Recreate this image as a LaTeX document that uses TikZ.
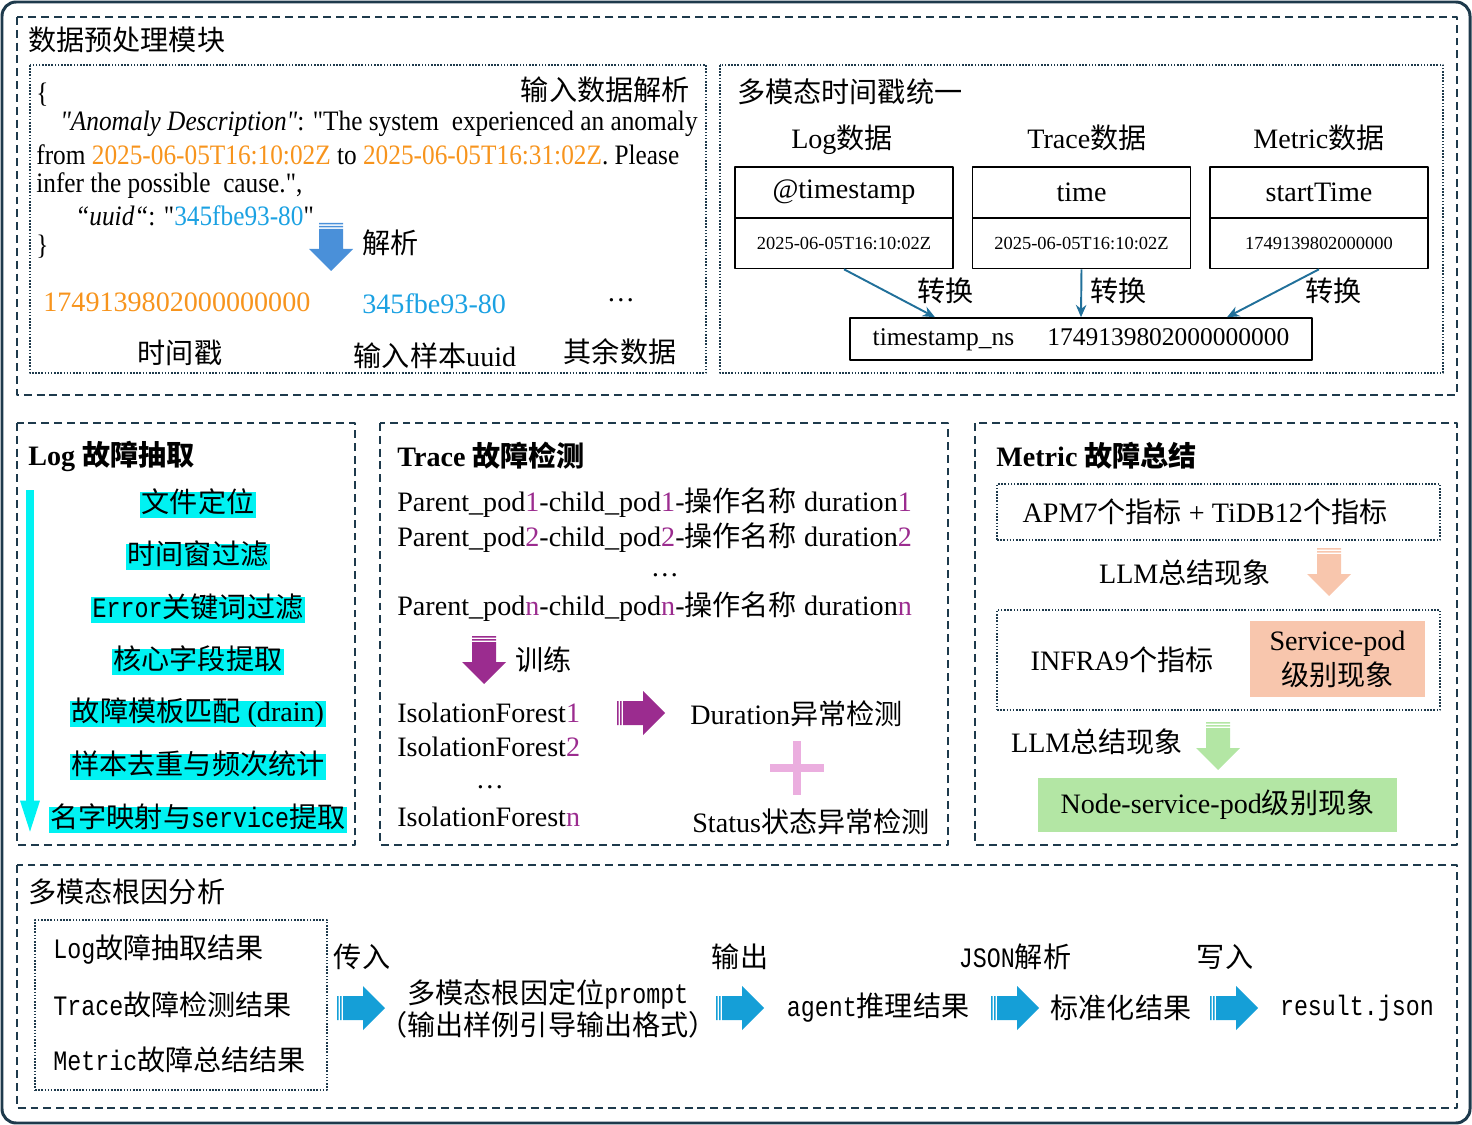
\documentclass[tikz,border=0pt]{standalone}
\usepackage{fontspec}
\setmainfont{Liberation Serif}[Ligatures=TeXOff]
\setmonofont[FakeStretch=0.83]{Liberation Mono}
\newfontfamily\zhfont{Noto Sans CJK SC}
\newfontfamily\narrowserif{Liberation Serif}[FakeStretch=0.9,Ligatures=TeXOff]
\newcommand{\zh}[1]{{\zhfont #1}}
\usetikzlibrary{arrows.meta,calc}
\definecolor{frame}{HTML}{1E3A4C}
\definecolor{tsorange}{HTML}{F7941D}
\definecolor{idblue}{HTML}{1BA1E2}
\definecolor{convblue}{HTML}{21709A}
\definecolor{logcyan}{HTML}{00F2F2}
\definecolor{trpurple}{HTML}{9B2C8F}
\definecolor{pluspink}{HTML}{EBAEDF}
\definecolor{parseblue}{HTML}{4A90D9}
\definecolor{flowblue}{HTML}{159FD7}
\definecolor{peach}{HTML}{F8C6AD}
\definecolor{leafgreen}{HTML}{B3E6A4}
\begin{document}
\begin{tikzpicture}[x=0.02cm,y=-0.02cm,line join=round,
  module/.style={draw=frame,line width=1.4pt,dash pattern=on 4.5pt off 2.8pt},
  subbox/.style={draw=frame,line width=1.2pt,dash pattern=on 0.9pt off 0.9pt},
  txt/.style={inner sep=0pt,font=\fontsize{16}{20}\selectfont},
  jsontext/.style={txt,anchor=west,font=\fontsize{16}{20}\narrowserif},
  smalltext/.style={inner sep=0pt,font=\fontsize{10.5}{12}\selectfont},
  cell/.style={draw=black,line width=0.9pt,minimum width=4.36cm,minimum height=1.02cm,inner sep=0pt},
  hlitem/.style={txt,fill=logcyan,inner xsep=1pt,text height=11.6pt,text depth=3.6pt},
  conv/.style={-{Stealth[length=7pt,width=6pt]},draw=convblue,line width=1.1pt},
  pics/fatarrow/.style={code={
    \fill[#1] (-24,-12) rectangle (-22.5,12)
              (-21,-12) rectangle (-19.5,12)
              (-18,-12) rectangle (2,12)
              (2,-22) -- (24,0) -- (2,22) -- cycle;
  }}]
\useasboundingbox (0,0) rectangle (1472,1125);
\draw[frame,line width=1.7pt,rounded corners=8pt] (2,2) rectangle (1470,1123);

% data preprocessing
\draw[module] (17,17) rectangle (1457,395);
\node[txt,anchor=west] (pretitle) at (28,40) {\zh{数据预处理模块}};
\draw[subbox] (30,65) rectangle (706,373);
\draw[subbox] (720,65) rectangle (1443,373);

\node[jsontext] (bracel) at (36,95) {\{};
\node[txt,anchor=east] (parsetitle) at (690,90) {\zh{输入数据解析}};
\node[jsontext] (jline1) at (60,124) {\textit{"Anomaly Description"}: "The system \ experienced an anomaly};
\node[jsontext] (jline2) at (36,155) {from \textcolor{tsorange}{2025-06-05T16:10:02Z} to \textcolor{tsorange}{2025-06-05T16:31:02Z}. Please};
\node[jsontext] (jline3) at (36,186) {infer the possible \ cause.",};
\node[jsontext] (jline4) at (75,216) {\textit{“uuid“}: "\textcolor{idblue}{345fbe93-80}"};
\node[jsontext] (bracer) at (36,247) {\}};
\pic[rotate=-90] at (331,247) {fatarrow=parseblue};
\node[txt,anchor=west] (parselabel) at (362,243) {\zh{解析}};
\node[txt,anchor=west,text=tsorange] (tsvalue) at (43,302) {1749139802000000000};
\node[txt,anchor=west,text=idblue] (uuidvalue) at (362,304) {345fbe93-80};
\node[txt] (restvalue) at (621,300) {…};
\node[txt] (tslabel) at (180,353) {\zh{时间戳}};
\node[txt] (uuidlabel) at (435,356) {\zh{输入样本}uuid};
\node[txt] (restlabel) at (620,352) {\zh{其余数据}};

\node[txt,anchor=west] (unititle) at (737,92) {\zh{多模态时间戳统一}};
\node[txt] (loghead) at (842,140) {Log\zh{数据}};
\node[txt] (tracehead) at (1087,138) {Trace\zh{数据}};
\node[txt] (metrichead) at (1319,138) {Metric\zh{数据}};
\node[cell,txt] (logkey) at (844,192.5) {@timestamp};
\node[cell,smalltext] (logval) at (844,243) {2025-06-05T16:10:02Z};
\node[cell,txt] (tracekey) at (1081.5,192.5) {time};
\node[cell,smalltext] (traceval) at (1081.5,243) {2025-06-05T16:10:02Z};
\node[cell,txt] (metrickey) at (1319,192.5) {startTime};
\node[cell,smalltext] (metricval) at (1319,243) {1749139802000000};
\node[draw=black,line width=0.9pt,minimum width=9.24cm,minimum height=0.84cm,inner sep=0pt,
  text depth=2pt,font=\fontsize{14.5}{17}\selectfont] (tsbox) at (1081,339) {timestamp\_ns\hspace{1.3em}1749139802000000000};
\draw[conv] (logval.south) -- ($(tsbox.north)+(-146,0)$);
\draw[conv] (traceval.south) -- (tsbox.north);
\draw[conv] (metricval.south) -- ($(tsbox.north)+(146,0)$);
\node[txt,anchor=west] (conv1) at (917,291) {\zh{转换}};
\node[txt,anchor=west] (conv2) at (1090,291) {\zh{转换}};
\node[txt,anchor=west] (conv3) at (1305,291) {\zh{转换}};

% log
\draw[module] (17,423) rectangle (355,845);
\node[txt,anchor=west] (logtitle) at (28,456) {\bfseries Log \zh{故障抽取}};
\coordinate (logstart) at (30,490);
\coordinate (logend) at (30,834);
\draw[logcyan,line width=4pt,-{Triangle[length=19pt,width=10pt]}] (logstart) -- (logend);
\node[hlitem] (lstep1) at (198,505) {\zh{文件定位}};
\node[hlitem] (lstep2) at (198,557) {\zh{时间窗过滤}};
\node[hlitem] (lstep3) at (198,610) {\texttt{Error}\zh{关键词过滤}};
\node[hlitem] (lstep4) at (198,662) {\zh{核心字段提取}};
\node[hlitem] (lstep5) at (198,714) {\zh{故障模板匹配} (drain)};
\node[hlitem] (lstep6) at (198,767) {\zh{样本去重与频次统计}};
\node[hlitem] (lstep7) at (198,820) {\zh{名字映射与}\texttt{service}\zh{提取}};

% trace
\draw[module] (380,423) rectangle (948,845);
\node[txt,anchor=west] (tracetitle) at (397,456) {\bfseries Trace \zh{故障检测}};
\node[txt,anchor=west] (pair1) at (397,503) {Parent\_pod\textcolor{trpurple}{1}-child\_pod\textcolor{trpurple}{1}-\zh{操作名称} duration\textcolor{trpurple}{1}};
\node[txt,anchor=west] (pair2) at (397,538) {Parent\_pod\textcolor{trpurple}{2}-child\_pod\textcolor{trpurple}{2}-\zh{操作名称} duration\textcolor{trpurple}{2}};
\node[txt] (pairdots) at (665,575) {…};
\node[txt,anchor=west] (pairn) at (397,607) {Parent\_pod\textcolor{trpurple}{n}-child\_pod\textcolor{trpurple}{n}-\zh{操作名称} duration\textcolor{trpurple}{n}};
\pic[rotate=-90] at (484,660) {fatarrow=trpurple};
\node[txt,anchor=west] (trainlabel) at (515,660) {\zh{训练}};
\node[txt,anchor=west] (forest1) at (397,713) {IsolationForest\textcolor{trpurple}{1}};
\node[txt,anchor=west] (forest2) at (397,747) {IsolationForest\textcolor{trpurple}{2}};
\node[txt] (forestdots) at (490,787) {…};
\node[txt,anchor=west] (forestn) at (397,817) {IsolationForest\textcolor{trpurple}{n}};
\pic at (641,713) {fatarrow=trpurple};
\node[txt,anchor=west] (durcheck) at (690,714) {Duration\zh{异常检测}};
\draw[pluspink,line width=4pt] (770,768) -- (824,768) (797,741) -- (797,795);
\node[txt,anchor=west] (statcheck) at (692,822) {Status\zh{状态异常检测}};

% metric
\draw[module] (975,423) rectangle (1457,845);
\node[txt,anchor=west] (metrictitle) at (996,456) {\bfseries Metric \zh{故障总结}};
\node[subbox,minimum width=8.86cm,minimum height=1.12cm] (apmbox) at (1218.5,512) {};
\node[txt] (apmtext) at (1205,512) {APM7\zh{个指标} + TiDB12\zh{个指标}};
\pic[rotate=-90] at (1329,572) {fatarrow=peach};
\node[txt] (llm1) at (1185,573) {LLM\zh{总结现象}};
\node[subbox,minimum width=8.86cm,minimum height=2cm] (infrabox) at (1218.5,660) {};
\node[txt] (infratext) at (1122,660) {INFRA9\zh{个指标}};
\node[txt,fill=peach,minimum width=3.5cm,minimum height=1.52cm,align=center] (svcbox) at (1337.5,659) {Service-pod\\\zh{级别现象}};
\pic[rotate=-90] at (1218,746) {fatarrow=leafgreen};
\node[txt] (llm2) at (1097,742) {LLM\zh{总结现象}};
\node[txt,fill=leafgreen,minimum width=7.18cm,minimum height=1.08cm] (nodebox) at (1217.5,805) {Node-service-pod\zh{级别现象}};

% root cause
\draw[module] (17,865) rectangle (1457,1108);
\node[txt,anchor=west] (rootitle) at (28,892) {\zh{多模态根因分析}};
\node[subbox,minimum width=5.84cm,minimum height=3.4cm] (inbox) at (181,1005) {};
\node[txt,anchor=west] (inlog) at (53,950) {\texttt{Log}\zh{故障抽取结果}};
\node[txt,anchor=west] (intrace) at (53,1005) {\texttt{Trace}\zh{故障检测结果}};
\node[txt,anchor=west] (inmetric) at (53,1060) {\texttt{Metric}\zh{故障总结结果}};
\pic at (361,1008) {fatarrow=flowblue};
\pic at (740,1008) {fatarrow=flowblue};
\pic at (1015,1008) {fatarrow=flowblue};
\pic at (1234,1008) {fatarrow=flowblue};
\node[txt] (passin) at (362,957) {\zh{传入}};
\node[txt] (output) at (740,957) {\zh{输出}};
\node[txt] (jsonparse) at (1015,957) {\texttt{JSON}\zh{解析}};
\node[txt] (writein) at (1225,957) {\zh{写入}};
\node[txt,align=center,font=\fontsize{16}{18}\selectfont] (prompt) at (548,1009) {\zh{多模态根因定位}\texttt{prompt}\\\zh{（输出样例引导输出格式）}};
\node[txt] (agentres) at (878,1008) {\texttt{agent}\zh{推理结果}};
\node[txt] (stdres) at (1121,1008) {\zh{标准化结果}};
\node[txt] (resfile) at (1357,1008) {\texttt{result.json}};
\end{tikzpicture}
\end{document}
